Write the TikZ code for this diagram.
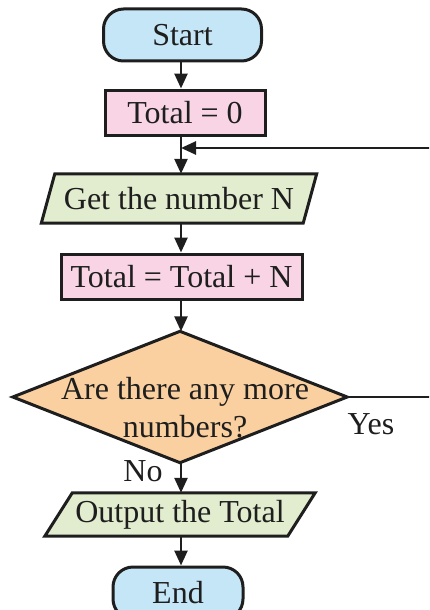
\documentclass[tikz,border=0pt]{standalone}
\usepackage{fontspec}
\setmainfont{Liberation Serif}
\usetikzlibrary{arrows.meta,backgrounds,calc}
\definecolor{cblue}{RGB}{197,230,246}
\definecolor{cpink}{RGB}{248,212,228}
\definecolor{cgreen}{RGB}{226,236,206}
\definecolor{corange}{RGB}{250,208,160}
\definecolor{cline}{RGB}{30,30,30}
\begin{document}
\begin{tikzpicture}[x=1pt,y=-1pt,
  font=\fontsize{32}{38}\selectfont,
  every node/.style={text=cline},
  term/.style={draw=cline, line width=3pt, rounded corners=20pt, fill=cblue,
    minimum height=52pt, inner sep=0pt},
  proc/.style={draw=cline, line width=3pt, fill=cpink, minimum height=45pt, inner sep=0pt},
  iobox/.style={inner sep=0pt},
  shapefill/.style={draw=cline, line width=3pt, line join=miter},
  link/.style={draw=cline, line width=2.6pt, -{Triangle[length=15pt,width=13pt]}},
  lbl/.style={inner sep=0pt}]
\useasboundingbox (0,0) rectangle (429,610);
\clip (0,0) rectangle (429,610);
\coordinate (col) at (181,0);
\coordinate (far) at (445,148);

\node[term, minimum width=158pt] (start) at (182.5,35) {Start};
\node[proc, minimum width=160pt] (t0) at (185,112.5) {Total = 0};
\node[iobox, minimum width=261.5pt, minimum height=49pt] (get) at (179,198.5) {Get the number N};
\node[proc, minimum width=241pt] (tn) at (181.5,276.5) {Total = Total + N};
\node[iobox, minimum width=334pt, minimum height=131pt] (dec) at (180,397) {};
\node[lbl, align=center] (dect) at (185,408) {Are there any more\\numbers?};
\node[iobox, minimum width=242.5pt, minimum height=43pt] (out) at (180,514.5) {Output the Total};
\node[term, minimum width=130pt] (end) at (178,593) {End};
\node[lbl] (yes) at (371,424) {Yes};
\node[lbl] (no) at (143,471) {No};

\begin{scope}[on background layer]
  \draw[shapefill, fill=cgreen] ($(get.north west)+(6.75,0)$) -- ($(get.north east)+(6.75,0)$)
     -- ($(get.south east)-(6.75,0)$) -- ($(get.south west)-(6.75,0)$) -- cycle;
  \draw[shapefill, fill=cgreen] ($(out.north west)+(13.75,0)$) -- ($(out.north east)+(13.75,0)$)
     -- ($(out.south east)-(13.75,0)$) -- ($(out.south west)-(13.75,0)$) -- cycle;
  \draw[shapefill, fill=corange] (dec.north) -- (dec.east) -- (dec.south) -- (dec.west) -- cycle;
\end{scope}

\draw[link] (start.south -| col) -- (t0.north -| col);
\draw[link] (t0.south -| col) -- (get.north -| col);
\draw[link] (get.south -| col) -- (tn.north -| col);
\draw[link] (tn.south -| col) -- (dec.north -| col);
\draw[link] (dec.south -| col) -- (out.north -| col);
\draw[link] (out.south -| col) -- (end.north -| col);
\draw[link] (dec.east) -| (far) -- (far -| col);
\end{tikzpicture}
\end{document}
